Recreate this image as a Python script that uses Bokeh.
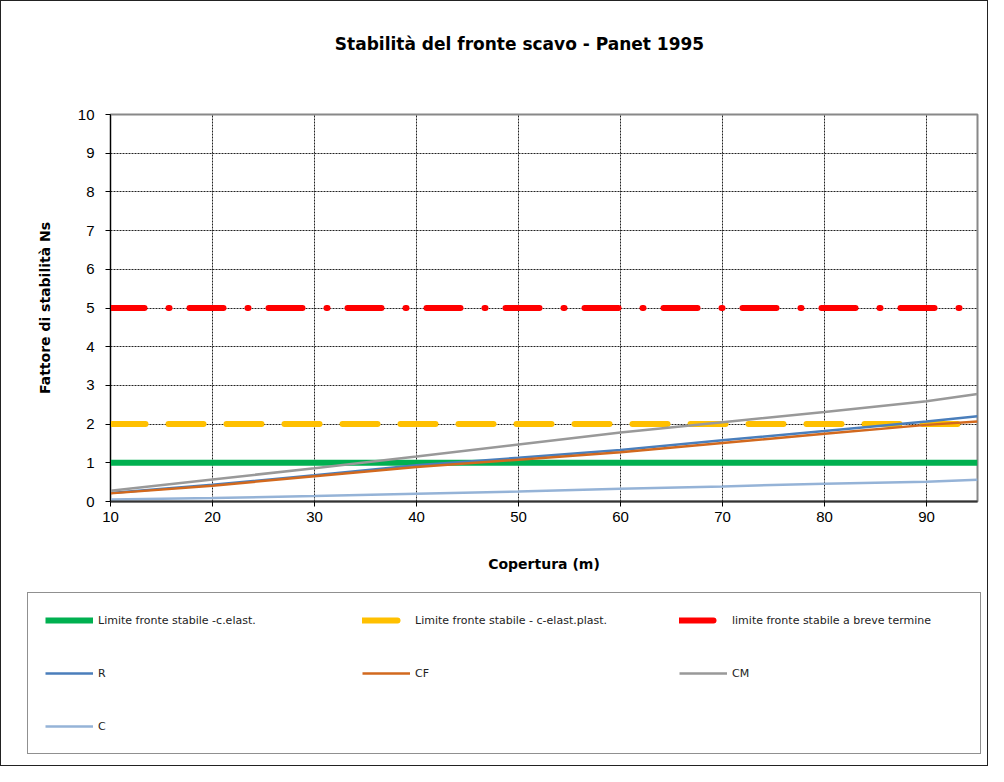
from bokeh.plotting import figure
from bokeh.models import Legend, LegendItem, FixedTicker, Range1d, Label
from bokeh.embed import file_html
from bokeh.resources import INLINE

# ---- data ----
copertura = [10, 20, 30, 40, 50, 60, 70, 80, 90, 95]
R = [0.22, 0.43, 0.68, 0.94, 1.13, 1.33, 1.58, 1.82, 2.07, 2.20]
CF = [0.21, 0.41, 0.65, 0.89, 1.08, 1.27, 1.51, 1.75, 1.98, 2.07]
CM = [0.28, 0.57, 0.86, 1.16, 1.47, 1.78, 2.05, 2.31, 2.59, 2.78]
C = [0.05, 0.09, 0.14, 0.20, 0.26, 0.33, 0.39, 0.46, 0.51, 0.56]

lim_x = [10, 95]
lim_elast = [1, 1]
lim_elastplast = [2, 2]
lim_breve = [5, 5]

x_ticks = [10, 20, 30, 40, 50, 60, 70, 80, 90]
y_ticks = [0, 1, 2, 3, 4, 5, 6, 7, 8, 9, 10]

title_text = "Stabilità del fronte scavo - Panet 1995"
labels = ["Limite fronte stabile -c.elast.",
          "Limite fronte stabile - c-elast.plast.",
          "limite fronte stabile a breve termine",
          "R", "CF", "CM", "C"]

COMIC = "DejaVu Sans"
BORDER = "1px solid #222"

styles = [
    dict(line_color="#00B050", line_width=6),
    dict(line_color="#FFC000", line_width=6, line_dash="35 23", line_cap="round"),
    dict(line_color="#FF0000", line_width=6, line_dash="34 24 1 20", line_cap="round"),
    dict(line_color="#4A7EBB", line_width=2.5),
    dict(line_color="#D2691E", line_width=2.5),
    dict(line_color="#999999", line_width=2.5),
    dict(line_color="#95B3D7", line_width=2.5),
]
series = [(lim_x, lim_elast), (lim_x, lim_elastplast), (lim_x, lim_breve),
          (copertura, R), (copertura, CF), (copertura, CM), (copertura, C)]

# ---- title strip ----
p0 = figure(width=988, height=60, output_backend="svg", toolbar_location=None,
            x_range=Range1d(0, 988), y_range=Range1d(0, 60),
            x_axis_location=None, y_axis_location=None,
            min_border_left=0, min_border_right=0, min_border_top=0,
            min_border_bottom=0)
p0.styles = {"border-top": BORDER, "border-left": BORDER, "border-right": BORDER}
p0.grid.visible = False
p0.outline_line_color = None
p0.border_fill_color = "white"
p0.add_layout(Label(x=518, y=18, text=title_text, text_font=COMIC,
                    text_font_size="17px", text_font_style="bold",
                    text_color="black", text_align="center",
                    text_baseline="middle"))

# ---- main plot ----
p = figure(width=988, height=524, output_backend="svg", toolbar_location=None,
           x_range=Range1d(10, 95), y_range=Range1d(0, 10),
           min_border_left=109, min_border_right=12, min_border_top=54,
           min_border_bottom=83)
p.styles = {"border-left": BORDER, "border-right": BORDER}

p.outline_line_color = "#888888"
p.outline_line_width = 2
p.background_fill_color = "white"
p.border_fill_color = "white"

for ax in (p.xaxis[0], p.yaxis[0]):
    ax.major_label_text_font = "Liberation Sans"
    ax.major_label_text_font_size = "15px"
    ax.major_label_text_color = "black"
    ax.axis_label_text_font = COMIC
    ax.axis_label_text_font_size = "14px"
    ax.axis_label_text_font_style = "bold"
    ax.axis_label_text_color = "black"
    ax.major_tick_in = 0
    ax.major_tick_out = 5
    ax.minor_tick_line_color = None
    ax.major_tick_line_color = "black"

p.xaxis.ticker = FixedTicker(ticks=x_ticks)
p.yaxis.ticker = FixedTicker(ticks=y_ticks)
p.xaxis.axis_label = "Copertura (m)"
p.yaxis.axis_label = "Fattore di stabilità Ns"
p.xaxis.axis_label_standoff = 31
p.yaxis.axis_label_standoff = 22
p.yaxis.major_label_standoff = 11
p.xaxis.axis_line_color = "#333333"
p.xaxis.axis_line_width = 2
p.yaxis.axis_line_color = "black"
p.yaxis.axis_line_width = 1

p.xgrid.ticker = FixedTicker(ticks=x_ticks)
p.ygrid.ticker = FixedTicker(ticks=y_ticks)
for g in (p.xgrid[0], p.ygrid[0]):
    g.grid_line_color = "#222222"
    g.grid_line_dash = "2 1"
    g.grid_line_width = 1

for (xs, ys), st in zip(series, styles):
    p.line(xs, ys, **st)

# ---- legend panel (same series, kept outside its view; only the legend shows) ----
p2 = figure(width=988, height=182, output_backend="svg", toolbar_location=None,
            x_range=Range1d(-2, -1), y_range=Range1d(-2, -1),
            x_axis_location=None, y_axis_location=None,
            min_border_left=0, min_border_right=0, min_border_top=0,
            min_border_bottom=0)
p2.styles = {"border-bottom": BORDER, "border-left": BORDER, "border-right": BORDER}
p2.grid.visible = False
p2.outline_line_color = None
p2.border_fill_color = "white"

items = []
for (xs, ys), lab, st in zip(series, labels, styles):
    r = p2.line(xs, ys, **st)
    items.append(LegendItem(label=lab, renderers=[r]))

legend = Legend(items=items, orientation="horizontal", ncols=3, location=(26, 12))
legend.border_line_color = "#222222"
legend.border_line_width = 1
legend.background_fill_alpha = 1
legend.padding = 17
legend.spacing = 33
legend.glyph_width = 48
legend.glyph_height = 20
legend.label_height = 20
legend.label_width = 231
legend.label_standoff = 5
legend.label_text_font = COMIC
legend.label_text_font_size = "11px"
legend.label_text_color = "#222222"
legend.margin = 0
p2.add_layout(legend, "center")

open("out.html", "w").write(file_html([p0, p, p2], INLINE))
